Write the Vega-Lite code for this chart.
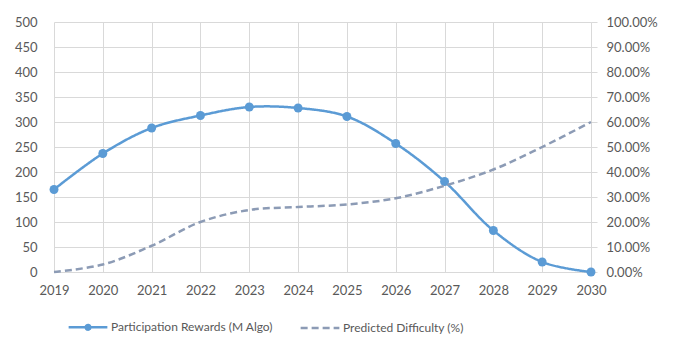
{
  "$schema": "https://vega.github.io/schema/vega-lite/v6.json",
  "width": 537,
  "height": 250,
  "autosize": {"type": "none"},
  "padding": {"left": 54, "top": 22, "right": 87, "bottom": 86},
  "background": "white",
  "config": {
    "view": {"stroke": null},
    "font": "Lato",
    "axis": {"labelFont": "Lato", "labelFontSize": 13, "labelColor": "#595959", "gridColor": "#d9d9d9", "gridWidth": 1},
    "legend": {"labelFont": "Lato", "labelFontSize": 12, "labelColor": "#595959", "labelLimit": 0}
  },
  "data": {
    "values": [
      {"year": 2019, "series": "Participation Rewards (M Algo)", "value": 165},
      {"year": 2020, "series": "Participation Rewards (M Algo)", "value": 237},
      {"year": 2021, "series": "Participation Rewards (M Algo)", "value": 288},
      {"year": 2022, "series": "Participation Rewards (M Algo)", "value": 313},
      {"year": 2023, "series": "Participation Rewards (M Algo)", "value": 330},
      {"year": 2024, "series": "Participation Rewards (M Algo)", "value": 328},
      {"year": 2025, "series": "Participation Rewards (M Algo)", "value": 311},
      {"year": 2026, "series": "Participation Rewards (M Algo)", "value": 257},
      {"year": 2027, "series": "Participation Rewards (M Algo)", "value": 181},
      {"year": 2028, "series": "Participation Rewards (M Algo)", "value": 83},
      {"year": 2029, "series": "Participation Rewards (M Algo)", "value": 20},
      {"year": 2030, "series": "Participation Rewards (M Algo)", "value": 0},
      {"year": 2019, "series": "Predicted Difficulty (%)", "value": 0},
      {"year": 2020, "series": "Predicted Difficulty (%)", "value": 0.03},
      {"year": 2021, "series": "Predicted Difficulty (%)", "value": 0.105},
      {"year": 2022, "series": "Predicted Difficulty (%)", "value": 0.2},
      {"year": 2023, "series": "Predicted Difficulty (%)", "value": 0.248},
      {"year": 2024, "series": "Predicted Difficulty (%)", "value": 0.26},
      {"year": 2025, "series": "Predicted Difficulty (%)", "value": 0.27},
      {"year": 2026, "series": "Predicted Difficulty (%)", "value": 0.295},
      {"year": 2027, "series": "Predicted Difficulty (%)", "value": 0.345},
      {"year": 2028, "series": "Predicted Difficulty (%)", "value": 0.41},
      {"year": 2029, "series": "Predicted Difficulty (%)", "value": 0.5},
      {"year": 2030, "series": "Predicted Difficulty (%)", "value": 0.6}
    ]
  },
  "encoding": {
    "x": {
      "field": "year", "type": "quantitative",
      "scale": {"domain": [2019, 2030], "nice": false, "zero": false},
      "axis": {"title": null, "format": "d", "values": [2019,2020,2021,2022,2023,2024,2025,2026,2027,2028,2029,2030], "tickSize": 0, "labelPadding": 12, "domainColor": "#d9d9d9", "grid": true, "labelFlush": false}
    },
    "color": {
      "field": "series", "type": "nominal",
      "scale": {"domain": ["Participation Rewards (M Algo)", "Predicted Difficulty (%)"], "range": ["#5b9bd5", "#8c9bb5"]},
      "legend": {
        "title": null, "orient": "none", "legendX": 13, "legendY": 284, "direction": "horizontal",
        "symbolType": "stroke", "symbolStrokeWidth": 2.5, "symbolSize": 1500, "columnPadding": 22, "labelOffset": 2,
        "encode": {"symbols": {"update": {
          "shape": {"signal": "datum.value === 'Participation Rewards (M Algo)' ? 'M-1,0H1M0.12,0A0.12,0.12,0,1,1,-0.12,0A0.12,0.12,0,1,1,0.12,0' : 'stroke'"},
          "fill": {"signal": "datum.value === 'Participation Rewards (M Algo)' ? '#5b9bd5' : 'transparent'"}
        }}}
      }
    },
    "strokeDash": {
      "field": "series", "type": "nominal",
      "scale": {"domain": ["Participation Rewards (M Algo)", "Predicted Difficulty (%)"], "range": [[1, 0], [7, 4]]},
      "legend": {
        "title": null, "orient": "none", "legendX": 13, "legendY": 284, "direction": "horizontal",
        "symbolType": "stroke", "symbolStrokeWidth": 2.5, "symbolSize": 1500, "columnPadding": 22, "labelOffset": 2,
        "encode": {"symbols": {"update": {
          "shape": {"signal": "datum.value === 'Participation Rewards (M Algo)' ? 'M-1,0H1M0.12,0A0.12,0.12,0,1,1,-0.12,0A0.12,0.12,0,1,1,0.12,0' : 'stroke'"},
          "fill": {"signal": "datum.value === 'Participation Rewards (M Algo)' ? '#5b9bd5' : 'transparent'"}
        }}}
      }
    }
  },
  "layer": [
    {
      "transform": [{"filter": "datum.series === 'Participation Rewards (M Algo)'"}],
      "mark": {"type": "line", "interpolate": "catmull-rom", "strokeWidth": 2.5, "point": {"filled": true, "size": 80}},
      "encoding": {
        "y": {
          "field": "value", "type": "quantitative",
          "scale": {"domain": [0, 500], "nice": false},
          "axis": {"title": null, "orient": "left", "values": [0,50,100,150,200,250,300,350,400,450,500], "tickSize": 0, "labelPadding": 17, "domain": false, "grid": true}
        }
      }
    },
    {
      "transform": [{"filter": "datum.series === 'Predicted Difficulty (%)'"}],
      "mark": {"type": "line", "interpolate": "catmull-rom", "strokeWidth": 2.5},
      "encoding": {
        "y": {
          "field": "value", "type": "quantitative",
          "scale": {"domain": [0, 1], "nice": false},
          "axis": {"title": null, "orient": "right", "format": ".2%", "values": [0,0.1,0.2,0.3,0.4,0.5,0.6,0.7,0.8,0.9,1], "tickSize": 6, "tickColor": "#d9d9d9", "labelPadding": 9, "domain": false, "grid": false}
        }
      }
    }
  ],
  "resolve": {"scale": {"y": "independent"}}
}
